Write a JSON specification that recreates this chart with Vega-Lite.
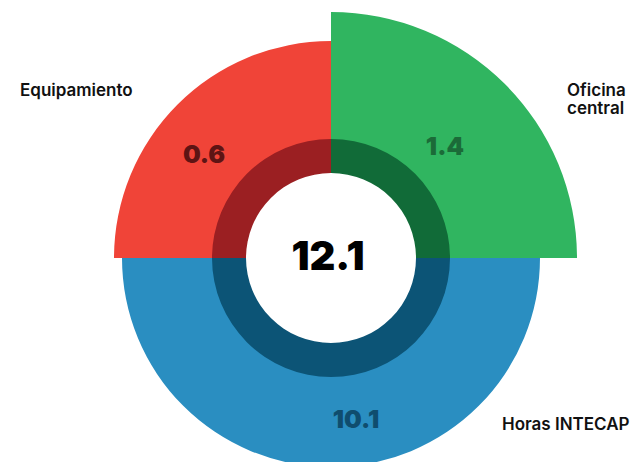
{
  "$schema": "https://vega.github.io/schema/vega-lite/v6.json",
  "width": 600,
  "height": 400,
  "autosize": {"type": "none"},
  "padding": {"left": 31, "top": 58, "right": 0, "bottom": 4},
  "background": "white",
  "view": {"stroke": null},
  "data": {
    "values": [
      {"categoria": "Oficina central", "valor": 1.4, "cuadrantes": 1},
      {"categoria": "Horas INTECAP", "valor": 10.1, "cuadrantes": 2},
      {"categoria": "Equipamiento", "valor": 0.6, "cuadrantes": 1}
    ]
  },
  "layer": [
    {
      "transform": [
        {"stack": "cuadrantes", "groupby": [], "sort": [{"field": "categoria", "order": "descending"}], "as": ["inicio", "fin"]}
      ],
      "mark": {"type": "arc", "radius2": 112, "stroke": null},
      "encoding": {
        "theta": {"field": "inicio", "type": "quantitative", "stack": null, "scale": {"domain": [0, 4], "range": [0, 6.283185307179586], "zero": false, "nice": false}},
        "theta2": {"field": "fin"},
        "radius": {
          "field": "valor", "type": "quantitative",
          "scale": {"type": "linear", "domain": [0.6, 1.4, 10.1], "range": [217, 246, 209], "zero": false, "nice": false}
        },
        "color": {
          "field": "categoria", "type": "nominal",
          "scale": {"domain": ["Equipamiento", "Oficina central", "Horas INTECAP"], "range": ["#F04438", "#30B560", "#2A8EC1"]},
          "legend": null
        }
      }
    },
    {
      "transform": [
        {"stack": "cuadrantes", "groupby": [], "sort": [{"field": "categoria", "order": "descending"}], "as": ["inicio", "fin"]}
      ],
      "mark": {"type": "arc", "radius": 119, "radius2": 85, "stroke": null},
      "encoding": {
        "theta": {"field": "inicio", "type": "quantitative", "stack": null, "scale": {"domain": [0, 4], "range": [0, 6.283185307179586], "zero": false, "nice": false}},
        "theta2": {"field": "fin"},
        "color": {
          "field": "categoria", "type": "nominal",
          "scale": {"domain": ["Equipamiento", "Oficina central", "Horas INTECAP"], "range": ["#9B1F22", "#116B38", "#0C5476"]},
          "legend": null
        }
      }
    },
    {
      "mark": {"type": "text", "font": "Inter", "fontWeight": 900, "fontSize": 25, "align": "center", "baseline": "middle"},
      "encoding": {
        "theta": {
          "field": "valor", "type": "quantitative", "stack": null,
          "scale": {"type": "linear", "domain": [0.6, 1.4, 10.1], "range": [-0.889, 0.799, 2.988], "zero": false, "nice": false}
        },
        "radius": {
          "field": "valor", "type": "quantitative",
          "scale": {"type": "linear", "domain": [0.6, 1.4, 10.1], "range": [163.5, 159, 164], "zero": false, "nice": false}
        },
        "text": {"field": "valor", "type": "quantitative", "format": ".1f"},
        "color": {
          "field": "categoria", "type": "nominal",
          "scale": {"domain": ["Equipamiento", "Oficina central", "Horas INTECAP"], "range": ["#5E1414", "#1B6B38", "#0F4D6E"]},
          "legend": null
        }
      }
    },
    {
      "transform": [
        {"calculate": "datum.categoria === 'Oficina central' ? ['Oficina', 'central'] : datum.categoria", "as": "etiqueta"}
      ],
      "mark": {"type": "text", "font": "Inter", "fontWeight": 600, "fontSize": 17, "align": "left", "baseline": "middle", "lineHeight": 18, "color": "#111111"},
      "encoding": {
        "theta": {
          "field": "valor", "type": "quantitative", "stack": null,
          "scale": {"type": "linear", "domain": [0.6, 1.4, 10.1], "range": [-1.0779, 0.9551, 2.3445], "zero": false, "nice": false}
        },
        "radius": {
          "field": "valor", "type": "quantitative",
          "scale": {"type": "linear", "domain": [0.6, 1.4, 10.1], "range": [353, 289.1, 239], "zero": false, "nice": false}
        },
        "text": {"field": "etiqueta", "type": "nominal"}
      }
    },
    {
      "transform": [
        {"aggregate": [{"op": "sum", "field": "valor", "as": "total"}]}
      ],
      "mark": {"type": "text", "font": "Inter", "fontWeight": 900, "fontSize": 40, "align": "center", "baseline": "middle", "color": "#000000", "dx": -3},
      "encoding": {
        "text": {"field": "total", "type": "quantitative", "format": ".1f"}
      }
    }
  ],
  "resolve": {"scale": {"theta": "independent", "radius": "independent", "color": "independent"}}
}
